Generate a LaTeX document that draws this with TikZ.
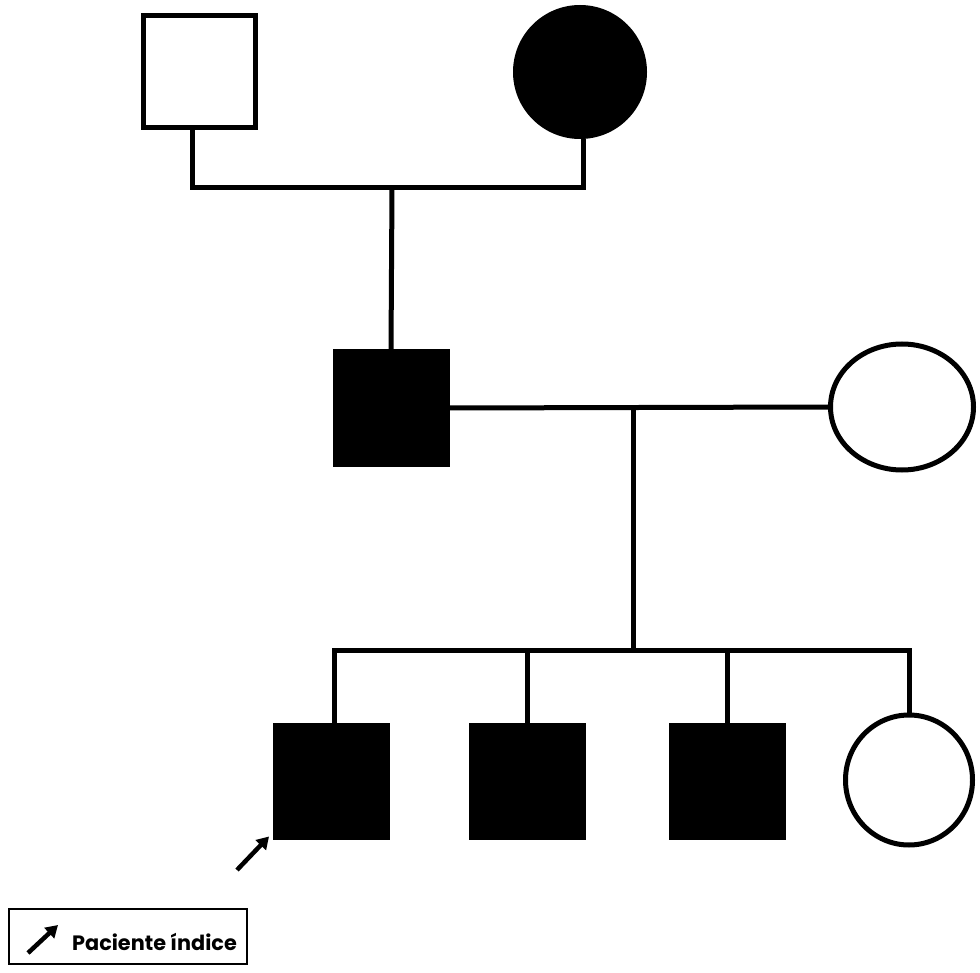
\documentclass[tikz,border=0pt]{standalone}
\usepackage{fontspec}
\setmainfont{Poppins}
\usetikzlibrary{shapes.geometric,arrows.meta}
\begin{document}
\begin{tikzpicture}[x=1pt,y=-1pt,line width=5pt,
  male/.style={draw, rectangle, minimum size=112pt, inner sep=0pt},
  female/.style={draw, ellipse, inner sep=0pt},
  aff/.style={fill=black},
  ptr/.style={line width=4.5pt, -{Triangle[length=12pt,width=14pt]}},
  legbox/.style={draw, line width=2.5pt, rectangle, minimum width=238pt, minimum height=55pt, inner sep=0pt},
  legtext/.style={font=\bfseries\fontsize{20.8}{22}\selectfont, inner sep=0pt}]
\useasboundingbox (0,0) rectangle (980,973);
% generation I
\node[male] (gf) at (199,71.5) {};
\node[female, aff, minimum width=129pt, minimum height=129pt] (gm) at (580,72) {};
% generation II
\node[male, aff] (f) at (391,408) {};
\node[female, minimum width=143pt, minimum height=126pt] (m) at (902,407) {};
% generation III
\node[male, aff] (c1) at (331.5,781) {};
\node[male, aff] (c2) at (527,781) {};
\node[male, aff] (c3) at (727,781) {};
\node[female, minimum width=127pt, minimum height=130pt] (c4) at (909,780) {};
% connectors
\coordinate (m1) at (392,188);
\draw ([xshift=-7pt]gf.south) |- (m1) -| ([xshift=3pt]gm.south);
\draw (m1) -- (f.north);
\coordinate (m2) at (633,408);
\draw (f.east) -- (m.west);
\coordinate (s) at (633,650);
\draw (m2) -- (s);
\draw ([xshift=3pt]c1.north) |- (s) -| (c4.north);
\draw (c2.north) -- (c2.north |- s);
\draw (c3.north) -- (c3.north |- s);
% proband arrow
\coordinate (a0) at (237,870);
\draw[ptr] (a0) -- ([shift={(-4pt,3pt)}]c1.south west);
% legend
\node[legbox] (leg) at (128,936.5) {};
\coordinate (l0) at (28,953);
\coordinate (l1) at (58,925);
\draw[ptr] (l0) -- (l1);
\node[legtext] (lt) at (154.5,942) {Paciente índice};
\end{tikzpicture}
\end{document}
